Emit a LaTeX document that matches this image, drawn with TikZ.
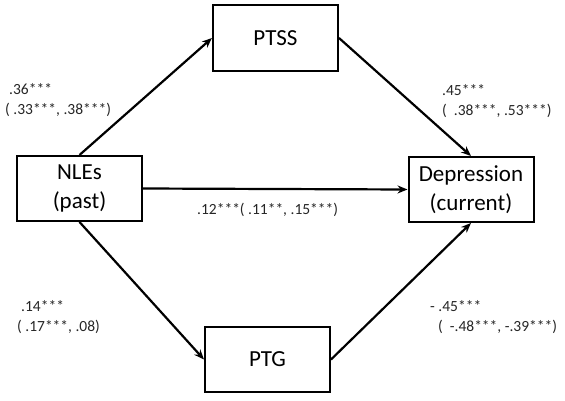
\documentclass[tikz,border=0pt]{standalone}
\usepackage{fontspec}
\setmainfont{Carlito}
\usetikzlibrary{arrows.meta}
\tikzset{
  var box/.style={
    draw,
    line width=2pt,
    minimum width=125pt,
    minimum height=65pt,
    inner sep=0pt,
    align=center,
    font=\fontsize{23}{29}\selectfont
  },
  coef/.style={
    inner sep=0pt,
    anchor=west,
    align=left,
    text=black!85,
    font=\fontsize{15.5}{20}\selectfont
  },
  path arrow/.style={
    line width=2.2pt,
    -{Stealth[length=10pt,width=8pt]}
  }
}
\begin{document}
\begin{tikzpicture}[x=1pt,y=1pt]
\useasboundingbox (0,0) rectangle (565,400);
% variables
\node[var box] (ptss) at (275.5,362)  {PTSS};
\node[var box] (nles) at ( 79.5,211.5) {NLEs\\(past)};
\node[var box] (dep)  at (471  ,210.5) {Depression\\(current)};
\node[var box] (ptg)  at (267.5, 40.5) {PTG};
% paths
\draw[path arrow] (nles.north) -- (ptss.west);
\draw[path arrow] (ptss.east)  -- (dep.north);
\draw[path arrow] (nles.east)  -- (dep.west);
\draw[path arrow] (nles.south) -- (ptg.west);
\draw[path arrow] (ptg.east)   -- (dep.south);
% coefficients
\node[coef] (c1) at (  5,300) {\hspace*{4pt}.36***\\( .33***, .38***)};
\node[coef] (c2) at (442,299) {.45***\\(\ \ .38***, .53***)};
\node[coef] (c3) at (197,190) {.12***( .11**, .15***)};
\node[coef] (c4) at ( 17, 82.5) {\hspace*{4pt}.14***\\( .17***, .08)};
\node[coef] (c5) at (430, 83) {- .45***\\\hspace*{8pt}(\ \ -.48***, -.39***)};
\end{tikzpicture}
\end{document}
